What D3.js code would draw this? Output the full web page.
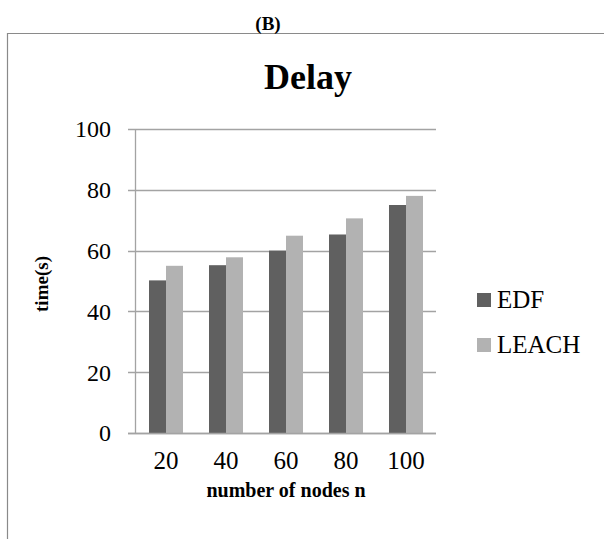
<!DOCTYPE html>
<html>
<head>
<meta charset="utf-8">
<script src="https://cdn.jsdelivr.net/npm/d3@7"></script>
<style>
  body { margin: 0; background: #fff; }
  text { font-family: "Liberation Serif", "Times New Roman", serif; fill: #000; }
</style>
</head>
<body>
<div id="chart"></div>
<script>
// data
const categories = ["20", "40", "60", "80", "100"];
const seriesNames = ["EDF", "LEACH"];
const edfValues = [50.2, 55.2, 60, 65.3, 75];
const leachValues = [55, 57.8, 64.9, 70.6, 78];
const yTicks = [0, 20, 40, 60, 80, 100];
const colors = { EDF: "#606060", LEACH: "#b2b2b2" };

const width = 604, height = 539;

const svg = d3.select("#chart")
    .append("svg")
    .attr("width", width)
    .attr("height", height);

// outer frame (top + left only)
svg.append("path")
    .attr("d", "M 7.5 539 L 7.5 33.5 L 604 33.5")
    .attr("fill", "none")
    .attr("stroke", "#8a8a8a")
    .attr("stroke-width", 1.2);

svg.append("text")
    .attr("x", 268)
    .attr("y", 30)
    .attr("text-anchor", "middle")
    .style("font-size", "19px")
    .style("font-weight", "bold")
    .text("(B)");

svg.append("text")
    .attr("x", 308)
    .attr("y", 89)
    .attr("text-anchor", "middle")
    .style("font-size", "36px")
    .style("font-weight", "bold")
    .text("Delay");

const x0 = d3.scaleBand()
    .domain(categories)
    .range([136, 436])
    .paddingInner(0.4333)
    .paddingOuter(0.2167);

const x1 = d3.scaleBand()
    .domain(seriesNames)
    .range([0, x0.bandwidth()]);

const y = d3.scaleLinear()
    .domain([0, 100])
    .range([433, 129]);

// gridlines
svg.append("g")
    .selectAll("line")
    .data(yTicks)
    .join("line")
    .attr("x1", 128)
    .attr("x2", 436)
    .attr("y1", d => Math.round(y(d)) + 0.5)
    .attr("y2", d => Math.round(y(d)) + 0.5)
    .attr("stroke", "#a3a3a3")
    .attr("stroke-width", 1.3);

// y axis line
svg.append("line")
    .attr("x1", 135.5).attr("x2", 135.5)
    .attr("y1", y(100)).attr("y2", y(0))
    .attr("stroke", "#a3a3a3")
    .attr("stroke-width", 1.3);

svg.append("g")
    .selectAll("text")
    .data(yTicks)
    .join("text")
    .attr("x", 111)
    .attr("y", d => y(d))
    .attr("dy", "0.35em")
    .attr("text-anchor", "end")
    .style("font-size", "24px")
    .text(d => d);

// bars
const rows = categories.map((c, i) => ({ cat: c, EDF: edfValues[i], LEACH: leachValues[i] }));

svg.append("g")
    .selectAll("g")
    .data(rows)
    .join("g")
    .attr("transform", d => "translate(" + x0(d.cat) + ",0)")
    .selectAll("rect")
    .data(d => seriesNames.map(s => ({ key: s, value: d[s] })))
    .join("rect")
    .attr("x", d => x1(d.key))
    .attr("y", d => y(d.value))
    .attr("width", x1.bandwidth())
    .attr("height", d => y(0) - y(d.value))
    .attr("fill", d => colors[d.key]);

// x axis baseline on top of bars
svg.append("line")
    .attr("x1", 128).attr("x2", 436)
    .attr("y1", Math.round(y(0)) + 0.5).attr("y2", Math.round(y(0)) + 0.5)
    .attr("stroke", "#a3a3a3")
    .attr("stroke-width", 1.3);

svg.append("g")
    .selectAll("text")
    .data(categories)
    .join("text")
    .attr("x", d => x0(d) + x0.bandwidth() / 2)
    .attr("y", 469)
    .attr("text-anchor", "middle")
    .style("font-size", "25px")
    .text(d => d);

svg.append("text")
    .attr("x", 286)
    .attr("y", 497)
    .attr("text-anchor", "middle")
    .style("font-size", "20px")
    .style("font-weight", "bold")
    .text("number of nodes n");

svg.append("text")
    .attr("transform", "translate(48,284) rotate(-90)")
    .attr("text-anchor", "middle")
    .style("font-size", "19px")
    .style("font-weight", "bold")
    .text("time(s)");

// legend
const legend = svg.append("g")
    .selectAll("g")
    .data(seriesNames)
    .join("g")
    .attr("transform", (d, i) => "translate(477," + (293 + i * 45) + ")");

legend.append("rect")
    .attr("width", 14)
    .attr("height", 14)
    .attr("fill", d => colors[d]);

legend.append("text")
    .attr("x", 20)
    .attr("y", 15)
    .style("font-size", "25px")
    .text(d => d);
</script>
</body>
</html>
